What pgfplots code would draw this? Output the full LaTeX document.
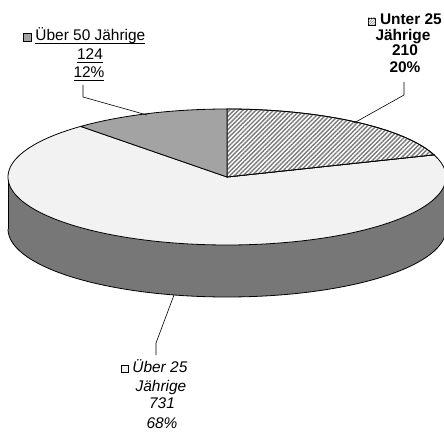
\documentclass[border=0pt]{standalone}
\usepackage{pgfplots}
\pgfplotsset{compat=1.18}
\usepackage{fontspec}
\setmainfont{Liberation Sans}
\usetikzlibrary{patterns.meta}

\definecolor{lightface}{HTML}{F2F2F2}
\definecolor{sideface}{HTML}{777777}
\definecolor{grayface}{HTML}{A3A3A3}
\definecolor{hatch}{HTML}{7A7A7A}

\newsavebox\mkU
\newsavebox\mkO
\newsavebox\mkF
% thick underline as in the Excel label
\newcommand\ul[1]{\setbox0\hbox{#1}\rlap{\raisebox{-3.2bp}{\rule{\wd0}{1.6bp}}}\box0}

\begin{document}%
\sbox\mkU{\tikz[baseline=0pt]\draw[line width=0.5pt, fill=white,
  postaction={pattern={Lines[angle=45,distance=1.8pt,line width=0.5pt]}, pattern color=gray}]
  (0,0) rectangle (7bp,7bp);}%
\sbox\mkO{\tikz[baseline=0pt]\draw[line width=0.5pt, fill=lightface] (0,0) rectangle (7bp,7bp);}%
\sbox\mkF{\tikz[baseline=0pt]\draw[line width=0.5pt, fill=grayface] (0,0) rectangle (8bp,8bp);}%
\begin{tikzpicture}
% values: Unter 25, Über 25, Über 50
\pgfmathsetmacro\tot{210+731+124}
\pgfmathsetmacro\aA{90-210/\tot*360}
\pgfmathsetmacro\aB{\aA-731/\tot*360}
\def\cx{227}\def\cy{177}\def\rx{219}\def\ry{68}\def\dep{52}
\begin{axis}[
    scale only axis, width=444bp, height=432bp,
    xmin=0, xmax=444, ymin=0, ymax=432, y dir=reverse,
    hide axis, clip=false, samples=150, variable=\t,
  ]
  \coordinate (bbA) at (rel axis cs:0,0);
  \coordinate (bbB) at (rel axis cs:1,1);
  % side of the cake
  \addplot[draw=none, fill=sideface, domain=0:360]
    ({\cx+\rx*cos(\t)},{\cy+\dep-\ry*sin(\t)});
  \addplot[draw=none, fill=sideface] coordinates {(8,177) (446,177) (446,229) (8,229)};
  \addplot[black, line width=0.8pt, domain=180:360]
    ({\cx+\rx*cos(\t)},{\cy+\dep-\ry*sin(\t)});
  \addplot[black, line width=0.8pt] coordinates {(8,177) (8,229)};

  % top faces
  \addplot[draw=black, line width=0.8pt, fill=lightface, domain=\aB:\aA]
    ({\cx+\rx*cos(\t)},{\cy-\ry*sin(\t)}) -- (axis cs:\cx,\cy) -- cycle;
  \addplot[draw=black, line width=0.8pt, fill=white,
    postaction={pattern={Lines[angle=45,distance=3.1bp,line width=1.4bp]}, pattern color=hatch},
    domain=\aA:90]
    ({\cx+\rx*cos(\t)},{\cy-\ry*sin(\t)}) -- (axis cs:\cx,\cy) -- cycle;
  \addplot[draw=black, line width=0.8pt, fill=grayface, domain=90:\aB+360]
    ({\cx+\rx*cos(\t)},{\cy-\ry*sin(\t)}) -- (axis cs:\cx,\cy) -- cycle;

  % leader lines
  \addplot[black, line width=0.6pt] coordinates {(83,85) (83,97) (147,115)};
  \addplot[black, line width=0.6pt] coordinates {(404,82) (404,95) (354,123)};
  \addplot[black, line width=0.6pt] coordinates {(156,355) (156,343) (174,295)};

  % labels
  \begin{scope}[every node/.style={anchor=base, inner sep=0pt, font=\fontsize{15.5}{18}\selectfont}]
    \node at (axis cs:84,41) {\usebox\mkF\ \ul{Über 50 Jährige}};
    \node at (axis cs:90,60) {\ul{124}};
    \node at (axis cs:89,78) {\ul{12\%}};

    \node[font=\fontsize{15.5}{18}\selectfont\bfseries] at (axis cs:405,25) {\usebox\mkU\ Unter 25};
    \node[font=\fontsize{15.5}{18}\selectfont\bfseries] at (axis cs:403,41) {Jährige};
    \node[font=\fontsize{15.5}{18}\selectfont\bfseries] at (axis cs:405,56) {210};
    \node[font=\fontsize{15.5}{18}\selectfont\bfseries] at (axis cs:405,73) {20\%};

    \node[font=\fontsize{15.5}{18}\selectfont\itshape] at (axis cs:154,372) {\usebox\mkO\ Über 25};
    \node[font=\fontsize{15.5}{18}\selectfont\itshape] at (axis cs:161,391) {Jährige};
    \node[font=\fontsize{15.5}{18}\selectfont\itshape] at (axis cs:162,408) {731};
    \node[font=\fontsize{15.5}{18}\selectfont\itshape] at (axis cs:162,428) {68\%};
  \end{scope}
\end{axis}
\pgfresetboundingbox
\useasboundingbox (bbA) rectangle (bbB);
\end{tikzpicture}%
\end{document}
